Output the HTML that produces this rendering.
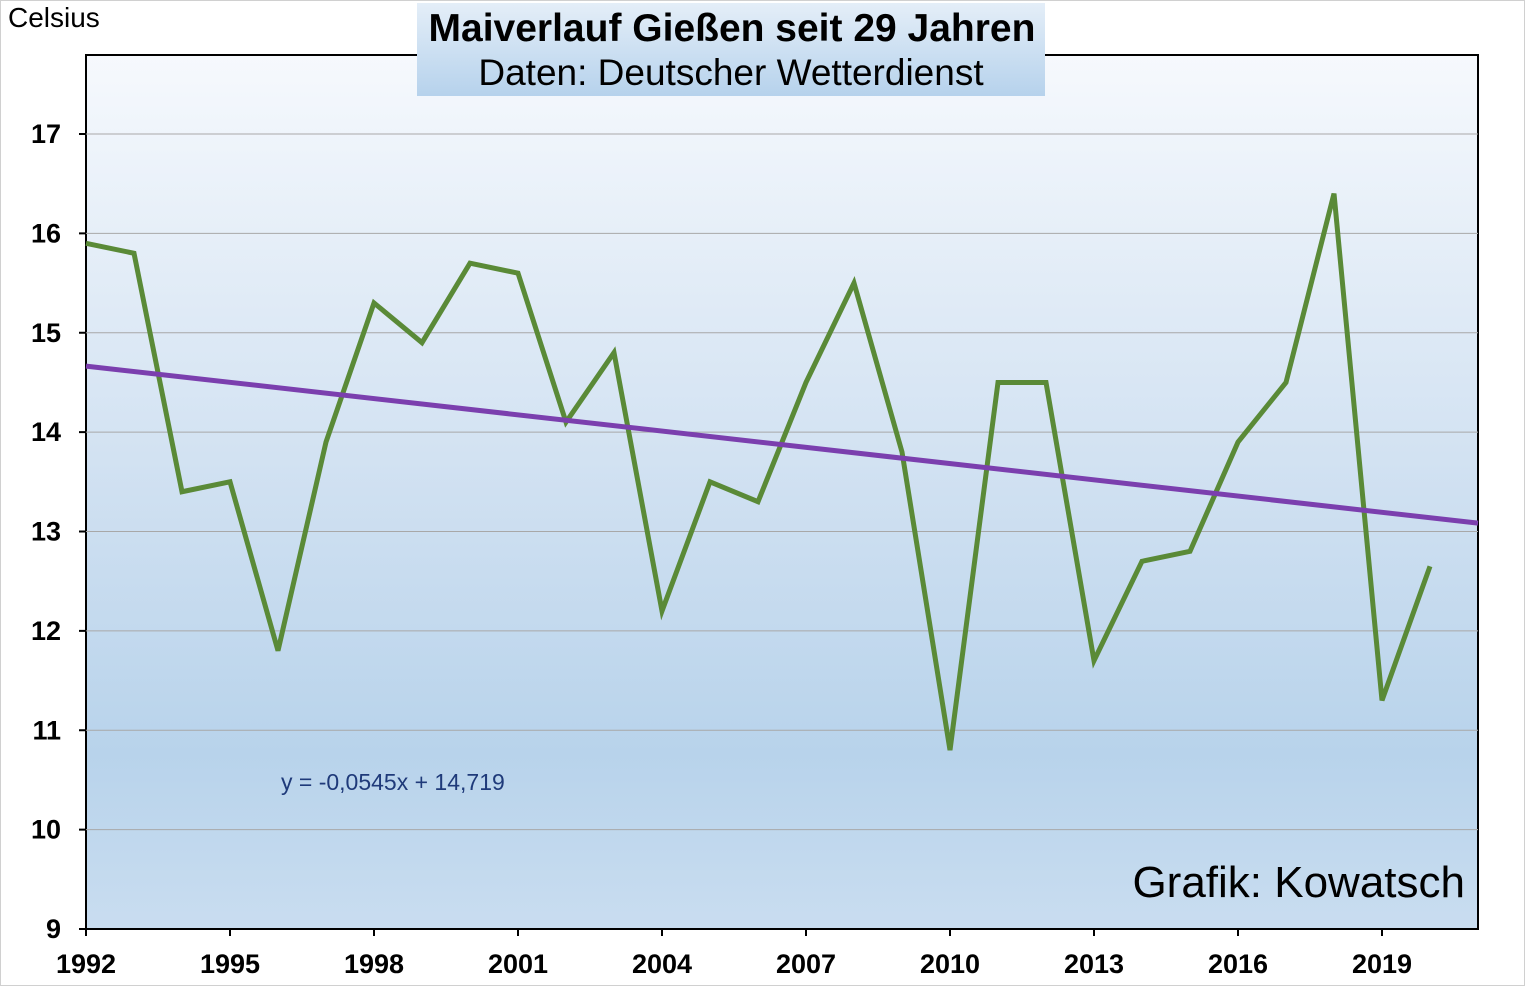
<!DOCTYPE html>
<html><head><meta charset="utf-8"><style>
body{margin:0;background:#fff;}
svg{display:block;font-family:"Liberation Sans",Arial,sans-serif;}
</style></head><body>
<svg id="c" width="1525" height="986">
<defs>
<linearGradient id="bg" x1="0" y1="0" x2="0" y2="1">
<stop offset="0" stop-color="#f6f9fd"/><stop offset="0.5" stop-color="#cfe0f1"/><stop offset="0.8" stop-color="#b8d3eb"/><stop offset="1" stop-color="#c9ddf0"/>
</linearGradient>
<linearGradient id="tb" x1="0" y1="0" x2="0" y2="1">
<stop offset="0" stop-color="#e4eef8"/><stop offset="1" stop-color="#b6d2ec"/>
</linearGradient>
</defs>
<rect x="0.5" y="0.5" width="1524" height="985" fill="#fff" stroke="#d0d0d0"/>
<rect x="86" y="55" width="1392" height="874" fill="url(#bg)" stroke="#000" stroke-width="2"/>
<g id="grid"></g><g id="axes"></g><g id="series"></g>
<rect x="417" y="3" width="628" height="93" fill="url(#tb)"/>
<text x="732" y="41" text-anchor="middle" font-size="39" font-weight="bold">Maiverlauf Gießen seit 29 Jahren</text>
<text x="731" y="85" text-anchor="middle" font-size="37">Daten: Deutscher Wetterdienst</text>
<text x="8" y="27" font-size="28">Celsius</text>
<text x="281" y="790" font-size="23" fill="#1f3a7a">y = -0,0545x + 14,719</text>
<text x="1465" y="897" text-anchor="end" font-size="44">Grafik: Kowatsch</text>
</svg>
<script>
const years=[1992,1993,1994,1995,1996,1997,1998,1999,2000,2001,2002,2003,2004,2005,2006,2007,2008,2009,2010,2011,2012,2013,2014,2015,2016,2017,2018,2019,2020];
const temps=[15.9,15.8,13.4,13.5,11.8,13.9,15.3,14.9,15.7,15.6,14.1,14.8,12.2,13.5,13.3,14.5,15.5,13.8,10.8,14.5,14.5,11.7,12.7,12.8,13.9,14.5,16.4,11.3,12.65];
const yTicks=[9,10,11,12,13,14,15,16,17];
const xTicks=[1992,1995,1998,2001,2004,2007,2010,2013,2016,2019];
const trendSlope=-0.0545, trendIntercept=14.719;
const NS="http://www.w3.org/2000/svg";
const X=y=>86+(y-1992)*48, Y=v=>929-(v-9)*99.375;
function mk(t,a,p){const e=document.createElementNS(NS,t);for(const k in a)e.setAttribute(k,a[k]);document.getElementById(p).appendChild(e);return e;}
yTicks.forEach(v=>{
 if(v>9){const g=mk('line',{x1:86,x2:1478,y1:Y(v),y2:Y(v),stroke:'#a8a8a8','stroke-width':1},'grid');
 
 }
 const t=mk('line',{x1:79,x2:86,y1:Y(v),y2:Y(v),stroke:'#000','stroke-width':2},'axes');
 
 
 const l=mk('text',{x:61,y:Y(v)+9,'text-anchor':'end','font-size':27,'font-weight':'bold'},'axes');l.textContent=v;
 
 
});
xTicks.forEach(y=>{
 const t=mk('line',{x1:X(y),x2:X(y),y1:929,y2:936,stroke:'#000','stroke-width':2},'axes');
 
 
 const l=mk('text',{x:X(y),y:973,'text-anchor':'middle','font-size':27,'font-weight':'bold'},'axes');l.textContent=y;
 
 
});
const line=mk('polyline',{points:years.map((y,i)=>X(y)+','+Y(temps[i])).join(' '),fill:'none',stroke:'#5a8a37','stroke-width':5,'stroke-linejoin':'miter'},'series');


const tr=mk('line',{x1:X(1992),y1:Y(trendIntercept+trendSlope*1),x2:X(2021),y2:Y(trendIntercept+trendSlope*30),stroke:'#7b3fae','stroke-width':5},'series');


</script>
</body></html>
